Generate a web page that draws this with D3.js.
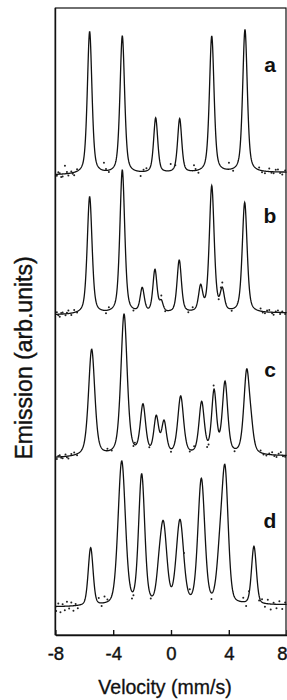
<!DOCTYPE html>
<html>
<head>
<meta charset="utf-8">
<style>
  body { margin: 0; background: #fff; }
  svg text { font-family: "Liberation Sans", Arial, sans-serif; fill: #111; }
  .fit { fill: none; stroke: #111; stroke-width: 1.3; }
  .pt { fill: #222; }
</style>
</head>
<body>
<script src="https://cdn.jsdelivr.net/npm/d3@7"></script>
<script>
// velocity ticks (mm/s)
var xTicks = [-8, -4, 0, 4, 8];
var tags = ["a", "b", "c", "d"];

// peak centres (mm/s), heights above baseline and half widths
var centersA = [-5.63, -3.37, -1.06, 0.60, 2.82, 5.12];
var heightsA = [28.6, 27.7, 11.2, 11.0, 27.5, 28.7];
var widthsA  = [0.19, 0.19, 0.17, 0.17, 0.19, 0.19];

var centersB = [-5.63, -3.37, -1.99, -1.11, -0.67, 0.57, 2.05, 2.82, 3.55, 5.10];
var heightsB = [23.6, 28.9, 5.4, 9.0, 2.9, 10.8, 5.9, 25.6, 5.3, 22.2];
var widthsB  = [0.20, 0.20, 0.17, 0.17, 0.15, 0.18, 0.17, 0.20, 0.17, 0.20];

var centersC = [-5.49, -3.25, -1.94, -1.02, -0.48, 0.67, 2.12, 2.98, 3.74, 5.24, 5.56];
var heightsC = [21.7, 28.7, 10.7, 8.4, 7.4, 12.2, 11.1, 13.5, 15.1, 17.5, 8.7];
var widthsC  = [0.26, 0.26, 0.22, 0.20, 0.20, 0.24, 0.22, 0.20, 0.22, 0.24, 0.20];

var centersD = [-5.56, -3.41, -2.03, -0.85, -0.53, 0.62, 2.10, 3.37, 3.74, 5.74];
var heightsD = [11.8, 29.1, 26.5, 10.4, 17.1, 17.3, 25.5, 15.5, 28.1, 11.8];
var widthsD  = [0.20, 0.30, 0.25, 0.20, 0.28, 0.30, 0.28, 0.25, 0.26, 0.20];

// baseline level at v=-8 and v=+8 for each spectrum
var baselines = [[92.0, 92.5], [64.0, 64.4], [35.4, 35.8], [5.6, 6.0]];
var lorentzFrac = [0.5, 0.5, 0.5, 0.3];

// scattered data points: [velocity, offset from fit]
var noiseA = [[-7.9,-0.3],[-7.8,0.4],[-7.7,0.2],[-7.6,-0.6],[-7.5,-0.5],[-7.34,1.6],[-7.2,0.3],[-7.1,-0.4],[-6.9,0.3],[-6.8,-0.2],[-6.7,-0.6],[-6.5,0.4],
  [-4.64,1.5],[-4.5,0.3],[-4.3,-0.4],[-2.1,-0.9],[-1.9,0.3],[-1.7,0.5],[-0.02,1.3],[0.3,-0.5],[1.59,1.1],[1.7,0.3],[1.9,-0.6],
  [4.01,1.3],[4.3,-0.5],[6.1,0.5],[6.3,-0.3],[6.5,-0.4],[6.8,0.6],[6.95,-0.2],[7.1,-0.3],[7.25,0.4],[7.4,0.5],[7.55,-0.2],[7.7,-0.5],[7.9,0.3]];
var noiseB = [[-7.9,0.4],[-7.8,-0.2],[-7.7,-0.5],[-7.6,0.2],[-7.5,0.3],[-7.3,-0.3],[-7.2,0.2],[-7.1,0.6],[-6.9,-0.4],[-6.7,0.5],[-6.5,-0.2],
  [-4.5,-0.6],[-4.3,0.5],[-2.6,-0.5],[-0.67,0.8],[-0.4,-0.4],[1.2,-0.5],[1.5,0.5],[3.55,0.9],[3.45,0.6],
  [3.3,-0.6],[4.2,-0.4],[6.2,0.5],[6.35,-0.2],[6.5,-0.3],[6.65,0.3],[6.8,0.4],[7.0,-0.2],[7.1,-0.5],[7.25,0.2],[7.4,0.4],[7.55,-0.3],[7.7,0.2],[7.9,-0.3]];
var noiseC = [[-7.9,-0.4],[-7.8,0.2],[-7.7,0.3],[-7.6,-0.2],[-7.5,-0.3],[-7.3,0.4],[-7.2,-0.2],[-7.1,-0.5],[-6.9,0.3],[-6.7,0.5],[-6.5,-0.3],
  [-4.4,0.4],[-4.1,-0.3],[-2.6,-0.6],[-2.5,0.4],[-1.5,-0.5],[0.0,-0.6],[1.3,-0.4],[1.6,0.5],
  [2.5,-1.5],[2.6,-1.0],[2.95,1.0],[4.4,-0.6],[6.2,0.4],[6.4,-0.2],[6.6,-0.3],[6.8,0.2],[7.0,0.5],[7.15,-0.2],[7.3,-0.4],[7.45,0.3],[7.6,0.6],[7.75,-0.2],[7.9,-0.3]];
var noiseD = [[-7.95,-0.9],[-7.8,0.6],[-7.65,-1.2],[-7.5,0.4],[-7.35,-0.8],[-7.2,0.9],[-7.05,-0.5],[-6.9,0.7],
  [-6.75,-1.0],[-6.6,0.3],[-6.45,-0.6],[-5.0,0.9],[-4.8,-0.6],[-4.6,1.2],[-4.4,0.4],[-2.7,-1.4],
  [-2.6,-0.9],[-1.4,-0.7],[0.9,0.8],[1.3,1.0],[2.8,-1.2],[5.0,0.8],[5.2,-1.0],[5.4,0.5],[6.1,-0.9],
  [6.3,0.6],[6.5,-0.7],[6.7,0.8],[6.9,-1.1],[7.1,0.3],[7.3,-0.8],[7.5,0.6],[7.7,-0.9],[7.9,0.4]];

var centers = [centersA, centersB, centersC, centersD];
var heights = [heightsA, heightsB, heightsC, heightsD];
var widths = [widthsA, widthsB, widthsC, widthsD];
var noise = [noiseA, noiseB, noiseC, noiseD];

var W = 287, H = 700;
var svg = d3.select('body').append('svg').attr('width', W).attr('height', H);

var x = d3.scaleLinear().domain([-8, 8]).range([55.4, 286.6]);
var y = d3.scaleLinear().domain([0, 125.4]).range([635, 8]);

function shape(dx, w, eta) {
    var t = (dx / w) * (dx / w);
    return eta / (1 + t) + (1 - eta) * Math.exp(-Math.LN2 * t);
}

// amplitudes so that the summed curve passes through the read peak heights
function solveAmps(c, h, w, eta) {
    var n = c.length;
    var m = c.map(function(ci, i) {
        return c.map(function(cj, j) { return shape(ci - cj, w[j], eta); }).concat([h[i]]);
    });
    for (var k = 0; k < n; k++) {
        var p = k;
        for (var i = k + 1; i < n; i++) if (Math.abs(m[i][k]) > Math.abs(m[p][k])) p = i;
        var tmp = m[k]; m[k] = m[p]; m[p] = tmp;
        for (var i = k + 1; i < n; i++) {
            var f = m[i][k] / m[k][k];
            for (var j = k; j <= n; j++) m[i][j] -= f * m[k][j];
        }
    }
    var a = new Array(n);
    for (var i = n - 1; i >= 0; i--) {
        var s = m[i][n];
        for (var j = i + 1; j < n; j++) s -= m[i][j] * a[j];
        a[i] = s / m[i][i];
    }
    return a;
}

var vGrid = d3.range(-8, 8.0001, 0.02);

tags.forEach(function(tag, s) {
    var eta = lorentzFrac[s];
    var amps = solveAmps(centers[s], heights[s], widths[s], eta);
    var b = baselines[s];
    var model = function(v) {
        var val = b[0] + (b[1] - b[0]) * (v + 8) / 16;
        centers[s].forEach(function(c, j) { val += amps[j] * shape(v - c, widths[s][j], eta); });
        return val;
    };

    var line = d3.line().x(function(v) { return x(v); }).y(function(v) { return y(model(v)); });
    svg.append('path').attr('class', 'fit').attr('d', line(vGrid));

    svg.selectAll(null).data(noise[s]).enter().append('circle')
        .attr('class', 'pt')
        .attr('cx', function(d) { return x(d[0]); })
        .attr('cy', function(d) { return y(model(d[0]) + d[1]); })
        .attr('r', 1);
});

// panel tags
var tagY = [112.6, 82.4, 51.6, 21.4];
svg.selectAll('.tag').data(tags).enter().append('text')
    .attr('class', 'tag')
    .attr('x', x(6.85))
    .attr('y', function(d, i) { return y(tagY[i]); })
    .attr('text-anchor', 'middle')
    .style('font-size', '21px')
    .style('font-weight', 'bold')
    .text(function(d) { return d; });

// frame
svg.append('rect')
    .attr('x', x(-8)).attr('y', y(125.4))
    .attr('width', x(8) - x(-8) - 0.6).attr('height', y(0) - y(125.4))
    .attr('fill', 'none').attr('stroke', '#111').attr('stroke-width', 1.2);
svg.append('line')
    .attr('x1', x(-8)).attr('x2', x(-8)).attr('y1', y(125.4)).attr('y2', y(0))
    .attr('stroke', '#111').attr('stroke-width', 1.6);

var xAxis = d3.axisBottom(x).tickValues(xTicks).tickSizeInner(-5).tickSizeOuter(0).tickPadding(12)
    .tickFormat(d3.format('d'));
var gx = svg.append('g').attr('transform', 'translate(0,' + y(0) + ')').call(xAxis);
gx.select('.domain').attr('stroke', '#111').attr('stroke-width', 1.6);
gx.selectAll('.tick line').attr('stroke', '#111').attr('stroke-width', 1.4);
gx.selectAll('.tick text')
    .style('font-size', '18.5px')
    .style('font-family', '"Liberation Sans", Arial, sans-serif')
    .attr('fill', '#111').attr('stroke', '#111').attr('stroke-width', 0.4)
    .attr('text-anchor', function(d) { return d === 8 ? 'end' : 'middle'; })
    .attr('dx', function(d) { return d === 8 ? 0.4 : 0; })
    .text(function(d) { return d < 0 ? '-' + Math.abs(d) : d; });

svg.append('text')
    .attr('x', 165).attr('y', 694)
    .attr('text-anchor', 'middle')
    .attr('stroke', '#111').attr('stroke-width', 0.3)
    .style('font-size', '19.5px')
    .text('Velocity (mm/s)');

svg.append('text')
    .attr('transform', 'translate(31.5,358) rotate(-90)')
    .attr('text-anchor', 'middle')
    .attr('stroke', '#111').attr('stroke-width', 0.4)
    .style('font-size', '23px')
    .text('Emission (arb.units)');
</script>
</body>
</html>
